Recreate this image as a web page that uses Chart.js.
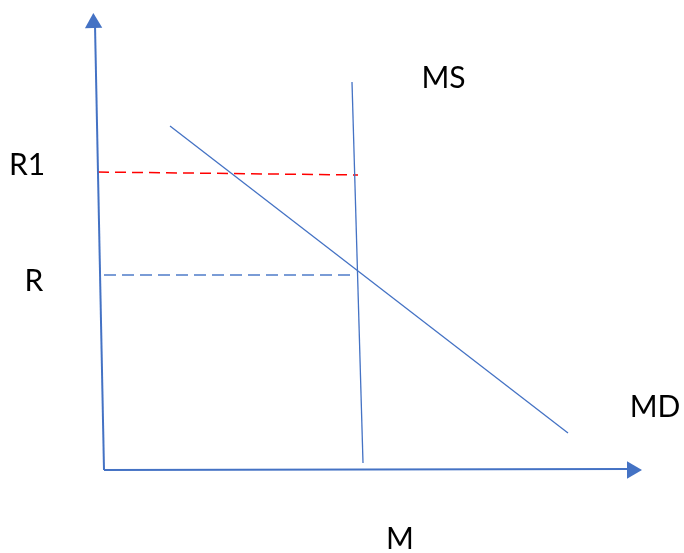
<!DOCTYPE html>
<html>
<head>
<meta charset="utf-8">
<script src="https://cdn.jsdelivr.net/npm/chart.js@4"></script>
<style>
  html, body { margin: 0; padding: 0; background: #fff; }
  #wrap { width: 684px; height: 553px; position: relative; }
</style>
</head>
<body>
<div id="wrap"><canvas id="moneyChart"></canvas></div>
<script>
// Diagram data, units measured from the origin of the axes
const yAxisLine = [{x: 0, y: 0}, {x: -9, y: 445}];
const xAxisLine = [{x: 0, y: 0}, {x: 524, y: 1}];
const msLine = [{x: 248, y: 388}, {x: 259, y: 7}];
const mdLine = [{x: 66, y: 344}, {x: 464, y: 37}];
const r1Line = [{x: -6, y: 298}, {x: 254, y: 295}];
const rLine = [{x: 0, y: 195}, {x: 251, y: 195}];
const arrowTips = [{x: -10.5, y: 447}, {x: 528, y: 0}];
const labelTexts = ['MS', 'R1', 'R', 'MD', 'M'];
const labelSpots = [[339.5, 391.5], [-77, 304.5], [-70, 188.5], [551, 63], [296, -69.5]];

const blue = '#4472C4';

// draw the text labels at data positions
const labelPlugin = {
    id: 'labels',
    afterDatasetsDraw(chart) {
        const ctx = chart.ctx;
        const xs = chart.scales.x, ys = chart.scales.y;
        ctx.save();
        ctx.fillStyle = '#000';
        ctx.font = '30px Lato, "Open Sans", sans-serif';
        ctx.textAlign = 'center';
        ctx.textBaseline = 'middle';
        labelTexts.forEach((t, i) => {
            ctx.fillText(t, xs.getPixelForValue(labelSpots[i][0]), ys.getPixelForValue(labelSpots[i][1]));
        });
        ctx.restore();
    }
};

function lineSet(data, color, width, dash) {
    return {
        data: data,
        showLine: true,
        borderColor: color,
        borderWidth: width,
        borderDash: dash || [],
        pointRadius: 0,
        fill: false
    };
}

var ctx = document.getElementById('moneyChart').getContext('2d');
var myChart = new Chart(ctx, {
    type: 'scatter',
    data: {
        datasets: [
            lineSet(yAxisLine, blue, 2),
            lineSet(xAxisLine, blue, 2),
            lineSet(msLine, blue, 1.3),
            lineSet(mdLine, blue, 1.3),
            lineSet(r1Line, '#FF0000', 1.5, [11, 6]),
            lineSet(rLine, '#7A9CD6', 2, [12, 6]),
            {
                data: arrowTips,
                showLine: false,
                pointStyle: 'triangle',
                pointRadius: 10,
                pointRotation: [-1, 90],
                backgroundColor: blue,
                borderColor: blue,
                borderWidth: 0
            }
        ]
    },
    plugins: [labelPlugin],
    options: {
        responsive: true,
        maintainAspectRatio: false,
        animation: false,
        layout: { padding: 0, autoPadding: false },
        plugins: {
            legend: { display: false },
            tooltip: { enabled: false }
        },
        scales: {
            x: { type: 'linear', min: -104, max: 580, display: false },
            y: { type: 'linear', min: -83, max: 470, display: false }
        }
    }
});
</script>
</body>
</html>
